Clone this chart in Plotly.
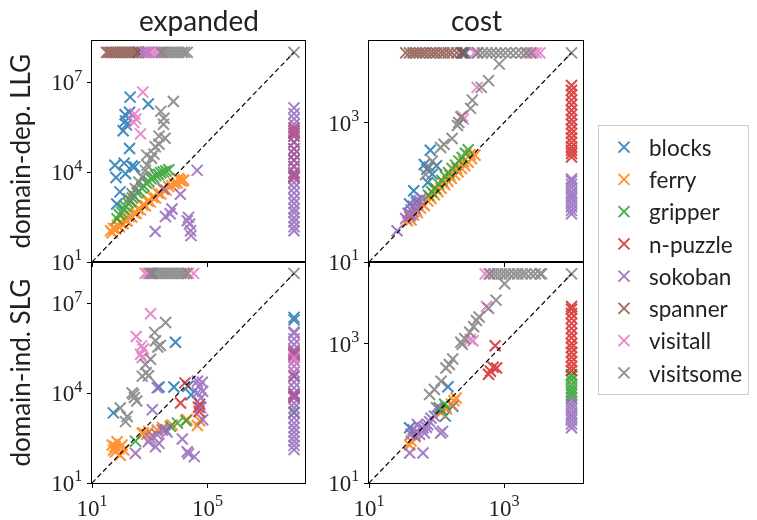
import math
import plotly.graph_objects as go

# ---------------- data ----------------
DOMAINS = ["blocks", "ferry", "gripper", "n-puzzle", "sokoban", "spanner", "visitall", "visitsome"]
COLORS = ["#1f77b4", "#ff7f0e", "#2ca02c", "#d62728", "#9467bd", "#8c564b", "#e377c2", "#7f7f7f"]
COL_TITLES = ["expanded", "cost"]
ROW_TITLES = ["domain-dep. LLG", "domain-ind. SLG"]
TIMEOUT_EXPANDED = 1e8
TIMEOUT_COST = 1e4

# ---- expanded, LLG (top-left): solved pairs (x, y)
exp_llg_blocks = [(210, 3.2e6), (890, 1.9e6), (140, 8.3e5), (200, 1.0e6), (145, 5.1e5), (120, 2.4e5),
                  (155, 3.8e5), (200, 6.2e4), (62, 1.7e4), (130, 2.0e4), (245, 1.6e4), (300, 1.5e4),
                  (68, 6.6e3), (145, 8.9e3), (93, 2.2e3), (72, 870)]
exp_llg_ferry = [(44, 110), (50, 95), (56, 132), (66, 126), (76, 166), (89, 151), (100, 200), (120, 190),
                 (141, 251), (166, 234), (200, 331), (240, 316), (282, 437), (339, 417), (398, 575),
                 (479, 550), (575, 794), (708, 759), (851, 1070), (1050, 1020), (1260, 1450), (1580, 1380),
                 (1910, 2000), (2400, 1860), (2950, 2630), (3720, 2510), (4570, 3310), (5750, 3550),
                 (7080, 4170), (8910, 4370), (1.12e4, 5250), (1.35e4, 5010), (1.0e4, 6030), (1.5e4, 5500)]
exp_llg_gripper = [(74, 275), (89, 380), (107, 457), (126, 600), (151, 690), (178, 930), (214, 1070),
                   (251, 1380), (295, 1550), (363, 2040), (427, 2290), (525, 2950), (631, 3390),
                   (759, 4370), (933, 4900), (1120, 6030), (1350, 6610), (1620, 7760), (2000, 8320),
                   (2400, 9550), (2950, 1.02e4), (3630, 1.1e4), (4570, 1.2e4)]
exp_llg_npuzzle = []
exp_llg_sokoban = [(4.4e4, 1.15e4), (1.15e4, 1820), (3000, 2820), (5900, 590), (5100, 410), (3500, 330),
                   (1550, 105), (2.2e4, 310), (2.4e4, 186), (2.6e4, 110), (2.7e4, 76), (2.0e4, 240)]
exp_llg_spanner = []
exp_llg_visitall = [(575, 4.7e6), (300, 8.7e5), (280, 4.6e5), (480, 1.9e5), (330, 6.0e5)]
exp_llg_visitsome = [(6600, 2.3e6), (2400, 1.07e6), (3100, 6.3e5), (3000, 4.0e5), (2100, 1.6e5),
                     (3400, 1.35e5), (2100, 8.5e4), (1400, 4.0e4), (1150, 2.9e4), (810, 1.7e4),
                     (710, 1.15e4), (550, 6.9e3), (420, 4.7e3), (320, 2.8e3), (245, 1.9e3), (190, 1.3e3),
                     (790, 3.7e4), (1550, 7.1e4), (TIMEOUT_EXPANDED, TIMEOUT_EXPANDED)]
# unsolved by the learned planner (y = timeout): x values
exp_llg_blocks_top = [400, 560, 710, 900]
exp_llg_spanner_top = [32, 38, 45, 52, 60, 70, 80, 95, 110, 130, 150, 180, 210, 250, 300, 350, 400]
exp_llg_visitall_top = [630, 800, 1000, 1300, 1600, 2000, 2500]
exp_llg_visitsome_top = [2500, 3200, 4000, 5000, 6300, 8000, 1.0e4, 1.3e4, 1.6e4, 2.0e4]
# unsolved by the baseline (x = timeout): y values
exp_llg_npuzzle_right = [6500, 7500, 9000, 1.5e4, 2.5e4, 4.0e4, 6.0e4, 1.0e5, 1.6e5, 2.0e5, 2.3e5, 3.0e5]
exp_llg_sokoban_right = [110, 150, 220, 300, 450, 600, 900, 1300, 2000, 3000, 4500, 7000, 1.0e4, 1.6e4,
                         2.5e4, 4.0e4, 6.0e4, 1.0e5, 1.6e5, 2.5e5, 4.0e5, 6.0e5, 9.0e5, 1.4e6]

# ---- cost, LLG (top-right)
cost_llg_blocks = [(81, 400), (66, 250), (100, 240), (87, 182), (74, 138), (46, 105), (40, 68), (51, 76),
                   (72, 214)]
cost_llg_ferry = [(37, 39), (42, 40), (46, 47), (52, 51), (58, 59), (66, 64), (74, 75), (83, 81), (93, 92),
                  (105, 102), (117, 114), (132, 128), (148, 144), (166, 158), (186, 178), (209, 195),
                  (234, 219), (263, 240), (295, 269), (331, 302), (372, 339), (40, 44), (50, 55), (62, 68),
                  (79, 87), (100, 110), (126, 138), (158, 174), (200, 219), (251, 275), (316, 347)]
cost_llg_gripper = [(76, 91), (85, 102), (95, 115), (107, 132), (120, 148), (135, 170), (151, 191),
                    (170, 219), (191, 245), (214, 282), (240, 316), (269, 363), (295, 407)]
cost_llg_npuzzle = []
cost_llg_sokoban = [(35, 42), (38, 50), (40, 46), (42, 56), (45, 52), (46, 63), (48, 59), (50, 71),
                    (52, 66), (56, 76), (60, 83), (42, 48), (26, 28)]
cost_llg_spanner = []
cost_llg_visitall = [(400, 3200), (240, 1230), (250, 1120)]
cost_llg_visitsome = [(850, 6900), (590, 4000), (460, 3200), (340, 2100), (320, 1600), (230, 1200),
                      (214, 1000), (204, 910), (170, 590), (129, 490), (115, 440), (87, 280), (78, 230),
                      (69, 180), (TIMEOUT_COST, TIMEOUT_COST)]
cost_llg_blocks_top = [240, 255, 270]
cost_llg_spanner_top = [35, 40, 45, 50, 56, 63, 70, 80, 90, 100, 115, 130, 150, 170, 200, 230, 250]
cost_llg_visitall_top = [365, 400, 2240, 2700, 3000, 3400]
cost_llg_visitsome_top = [410, 480, 560, 650, 760, 890, 1050, 1250, 1500, 1800, 2100, 2500]
cost_llg_npuzzle_right = [320, 360, 400, 450, 520, 600, 700, 800, 950, 1100, 1300, 1500, 1800, 2100,
                          2500, 2900, 3400]
cost_llg_sokoban_right = [49, 55, 62, 70, 80, 90, 100, 115, 130, 145, 155]

# ---- expanded, SLG (bottom-left)
exp_slg_blocks = [(7800, 5.0e5), (55, 2200), (2100, 1.6e4), (6900, 1.6e4), (2.75e4, 8900), (2.1e4, 1.7e4)]
exp_slg_ferry = [(50, 186), (74, 240), (110, 186), (65, 110), (95, 85), (126, 126), (63, 166), (56, 126),
                 (85, 141), (550, 457), (930, 525), (1820, 590), (6000, 870), (4.5e4, 830), (5.4e4, 1200),
                 (600, 470), (1.95e4, 1320), (790, 420), (2800, 710)]
exp_slg_gripper = [(320, 250), (5200, 780), (1.8e4, 1200), (9100, 1000)]
exp_slg_npuzzle = [(1.66e4, 2.2e4), (1.17e4, 4700), (4.9e4, 3400), (5.1e4, 2450), (5.4e4, 4300)]
exp_slg_sokoban = [(1820, 1.5e4), (5.1e4, 1.7e4), (4.5e4, 1.02e4), (6.8e4, 1.15e4), (1230, 2800),
                   (2700, 590), (1820, 410), (1070, 310), (2100, 210), (1580, 162), (890, 240),
                   (1.35e4, 295), (320, 98), (2.0e4, 110), (3.5e4, 76), (5.9e4, 6900), (6.8e4, 1290),
                   (4.5e4, 2.5e4), (6.6e4, 2.3e4), (5.75e4, 3300), (3500, 600), (2.2e4, 95), (1260, 355),
                   (4000, 500)]
exp_slg_spanner = []
exp_slg_visitall = [(1070, 4.5e6), (340, 7.8e5), (525, 3.8e5), (480, 2.0e5), (550, 1.55e5), (600, 3.0e5)]
exp_slg_visitsome = [(3550, 2.3e6), (1480, 1.07e6), (1580, 5.6e5), (1900, 3.5e5), (1070, 1.35e5),
                     (710, 9.1e4), (760, 4.8e4), (550, 3.7e4), (910, 3.8e4), (245, 1.02e4), (295, 7200),
                     (95, 3200), (166, 1660), (145, 1120), (355, 5500), (275, 9100), (2340, 3.9e5),
                     (TIMEOUT_EXPANDED, TIMEOUT_EXPANDED)]
exp_slg_visitall_top = [690, 850, 1000, 1200, 2.2e4, 3.3e4]
exp_slg_visitsome_top = [1050, 1300, 1600, 2000, 2500, 3100, 3900, 4800, 6000, 7500, 9500, 1.2e4,
                         1.5e4, 1.9e4]
exp_slg_blocks_right = [2.8e6, 3.4e6]
exp_slg_npuzzle_right = [2.4e5, 2.1e5, 1.9e5, 3.8e4, 9100, 8000, 7200]
exp_slg_gripper_right = [2300]
exp_slg_sokoban_right = [130, 180, 250, 350, 500, 700, 1000, 1500, 2200, 3200, 4600, 7000, 1.0e4, 1.5e4,
                         2.3e4, 3.5e4, 5.0e4, 8.0e4, 1.2e5, 1.8e5, 2.8e5, 4.2e5, 6.5e5, 1.0e6, 1.1e6]
exp_slg_visitall_right = [1.5e5, 8.0e4]

# ---- cost, SLG (bottom-right)
cost_slg_blocks = [(148, 240), (174, 126), (135, 91), (40, 62)]
cost_slg_ferry = [(195, 166), (166, 135), (117, 102), (42, 40), (40, 35), (182, 151), (141, 115), (48, 46)]
cost_slg_gripper = [(132, 135), (110, 120), (120, 112)]
cost_slg_npuzzle = [(740, 930), (590, 363), (690, 457), (776, 447), (630, 400)]
cost_slg_sokoban = [(100, 120), (83, 85), (63, 62), (50, 55), (56, 50), (45, 58), (66, 52), (123, 55),
                    (93, 91), (40, 27), (63, 27), (74, 69), (52, 69), (48, 48), (59, 60), (115, 52),
                    (42, 50), (71, 63), (79, 76)]
cost_slg_spanner = []
cost_slg_visitall = [(550, 3400), (347, 1100), (316, 1150)]
cost_slg_visitsome = [(1020, 7200), (760, 4200), (590, 3200), (390, 2140), (355, 1740), (310, 1450),
                      (263, 1170), (240, 980), (174, 600), (155, 500), (138, 447), (117, 288), (93, 219),
                      (79, 186), (229, 1050), (427, 2400), (TIMEOUT_COST, TIMEOUT_COST)]
cost_slg_visitall_top = [525, 600]
cost_slg_visitsome_top = [620, 700, 800, 920, 1050, 1200, 1400, 1600, 1850, 2100, 2500, 2900, 3400, 3600]
cost_slg_npuzzle_right = [410, 470, 550, 640, 750, 880, 1000, 1200, 1400, 1650, 1950, 2300, 2700, 3100, 3400]
cost_slg_gripper_right = [166, 185, 205, 230, 260, 300, 340, 360]
cost_slg_sokoban_right = [62, 70, 80, 90, 100, 115, 130, 145]

# ---------------- figure ----------------
W, H = 757, 520
COL_X = [(92, 305), (369, 583)]
ROW_Y = [(41, 262), (262, 483)]
RANGES = [8.38, 4.17]
TICKS_X = [[10, 1e5], [10, 1e3]]
TICKS_Y = [[10, 1e4, 1e7], [10, 1e3]]
TICK_FONT = dict(family="Liberation Serif", size=23, color="#222")


def sup(v):
    return "10<sup>%d</sup>" % round(math.log10(v))


def var(name):
    return globals().get(name, [])


panels = []  # (prefix, row, col, timeout)
for r, rowkey in enumerate(["llg", "slg"]):
    for c, colkey in enumerate(["exp", "cost"]):
        panels.append((f"{colkey}_{rowkey}", r, c, TIMEOUT_EXPANDED if c == 0 else TIMEOUT_COST))

fig = go.Figure()
layout = {}
shapes = []
for i, (prefix, r, c, tmo) in enumerate(panels):
    k = "" if i == 0 else str(i + 1)
    xa, ya = "x" + k, "y" + k
    x0, x1 = COL_X[c]
    y0, y1 = ROW_Y[r]
    layout["xaxis" + k] = dict(
        type="log", domain=[x0 / W, x1 / W], anchor=ya, range=[1, RANGES[c]], automargin=False,
        tickvals=TICKS_X[c], ticktext=[sup(v) for v in TICKS_X[c]], showticklabels=(r == 1),
        ticks="outside", ticklen=4, tickwidth=1, tickcolor="black",
        showline=True, mirror=True, linecolor="black", linewidth=1.2, showgrid=False, zeroline=False,
        tickfont=TICK_FONT)
    layout["yaxis" + k] = dict(
        type="log", domain=[1 - y1 / H, 1 - y0 / H], anchor=xa, range=[1, RANGES[c]], automargin=False,
        tickvals=TICKS_Y[c], ticktext=[sup(v) for v in TICKS_Y[c]],
        ticks="outside", ticklen=4, tickwidth=1, tickcolor="black",
        showline=True, mirror=True, linecolor="black", linewidth=1.2, showgrid=False, zeroline=False,
        tickfont=TICK_FONT)
    # timeout reference lines
    lg = math.log10(tmo)
    shapes.append(dict(type="line", xref=xa + " domain", yref=ya, x0=0, x1=1, y0=lg, y1=lg,
                       line=dict(color="#7f7f7f", width=2), layer="below"))
    shapes.append(dict(type="line", yref=ya + " domain", xref=xa, y0=0, y1=1, x0=lg, x1=lg,
                       line=dict(color="#7f7f7f", width=2), layer="below"))
    for d, (dom, col) in enumerate(zip(DOMAINS, COLORS)):
        key = dom.replace("-", "")
        pts = list(var(f"{prefix}_{key}"))
        xs = [p[0] for p in pts] + list(var(f"{prefix}_{key}_top")) + [tmo] * len(var(f"{prefix}_{key}_right"))
        ys = [p[1] for p in pts] + [tmo] * len(var(f"{prefix}_{key}_top")) + list(var(f"{prefix}_{key}_right"))
        fig.add_trace(go.Scatter(
            x=xs, y=ys, xaxis=xa, yaxis=ya, mode="markers", name=dom, legendgroup=dom,
            showlegend=(i == 0), opacity=0.85,
            marker=dict(symbol="x-thin", size=11, color=col, line=dict(color=col, width=2))))
    # diagonal
    fig.add_trace(go.Scatter(x=[10, tmo], y=[10, tmo], xaxis=xa, yaxis=ya, mode="lines",
                             line=dict(color="black", width=1.2, dash="5px,3px"),
                             showlegend=False, hoverinfo="skip"))

annotations = []
for c, t in enumerate(COL_TITLES):
    annotations.append(dict(text=t, x=(COL_X[c][0] + COL_X[c][1]) / 2 / W, y=1 - 20 / H, xref="paper",
                            yref="paper", showarrow=False, xanchor="center", yanchor="middle",
                            font=dict(family="Lato", size=28, color="#222")))
for r, t in enumerate(ROW_TITLES):
    annotations.append(dict(text=t, x=19 / W, y=1 - (ROW_Y[r][0] + ROW_Y[r][1]) / 2 / H, xref="paper",
                            yref="paper", showarrow=False, textangle=-90, xanchor="center",
                            yanchor="middle", font=dict(family="Lato", size=26, color="#222")))

fig.update_layout(
    width=W, height=H, margin=dict(l=0, r=0, t=0, b=0, autoexpand=False),
    plot_bgcolor="white", paper_bgcolor="white",
    shapes=shapes, annotations=annotations,
    legend=dict(x=598 / W, y=1 - 125 / H, xanchor="left", yanchor="top", bgcolor="white",
                bordercolor="#cccccc", borderwidth=1, tracegroupgap=0, itemwidth=40,
                font=dict(family="Lato", size=22.5, color="#222")),
    **layout)

fig.write_html("out.html", config={"displayModeBar": False},
               post_script="document.body.style.margin='0';")
